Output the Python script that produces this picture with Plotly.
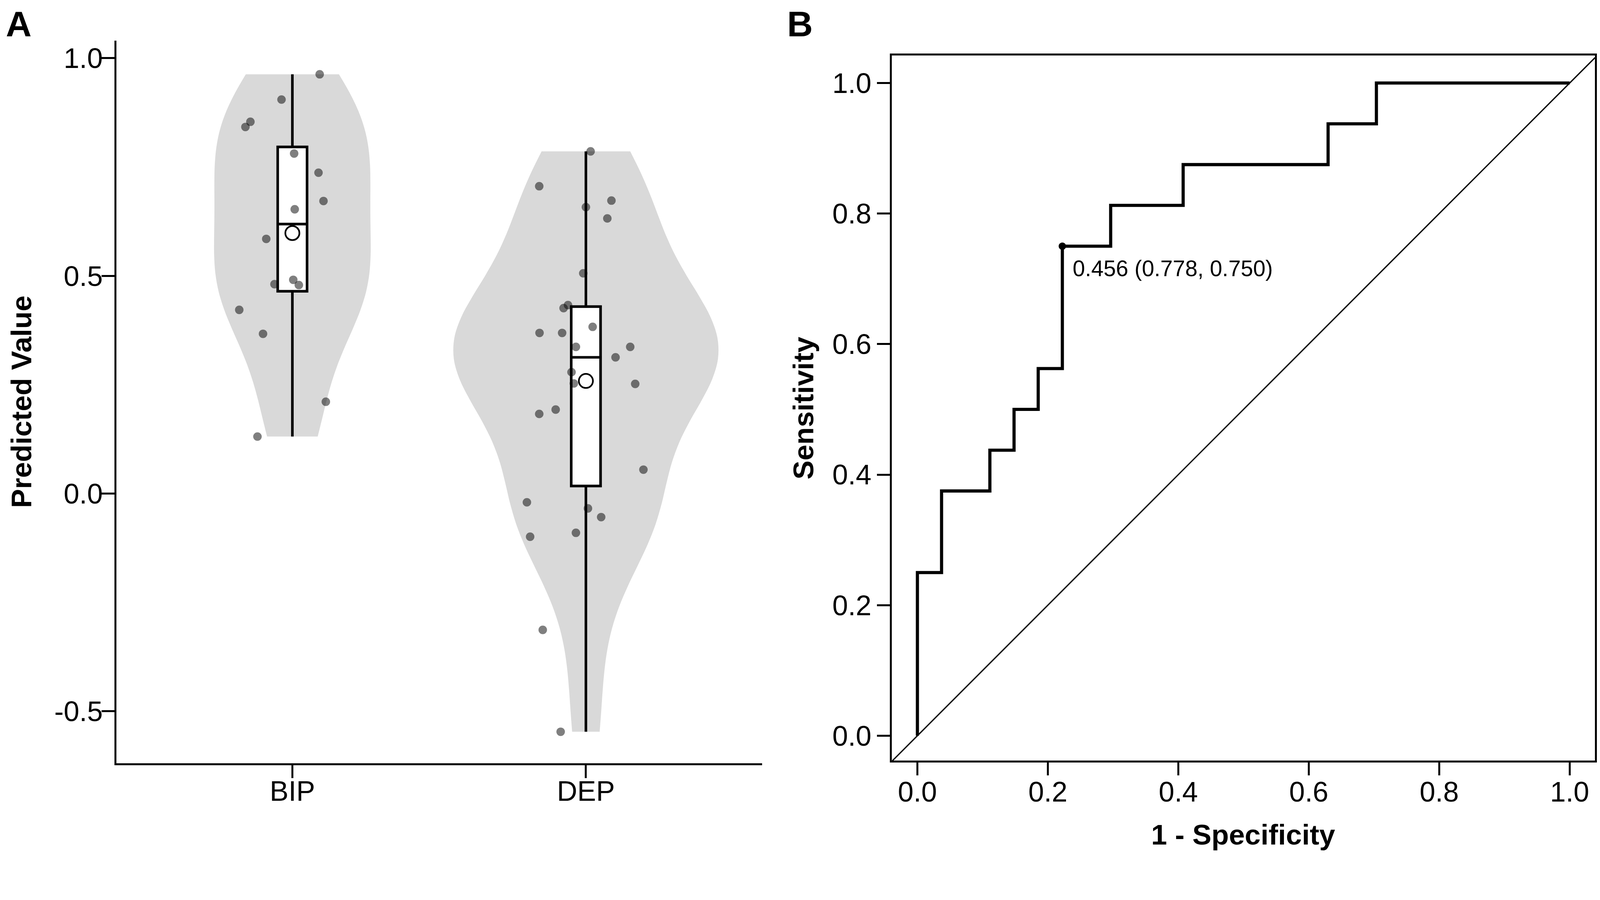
import numpy as np
import plotly.graph_objects as go

# --- data ---
groups = ["BIP", "DEP"]

bip_values = [0.963, 0.905, 0.854, 0.842, 0.781, 0.737, 0.672, 0.653,
              0.585, 0.481, 0.491, 0.479, 0.422, 0.367, 0.211, 0.131]
bip_jitter = [0.093, -0.037, -0.143, -0.160, 0.006, 0.089, 0.106, 0.008,
              -0.089, -0.061, 0.003, 0.022, -0.181, -0.100, 0.114, -0.119]

dep_values = [0.786, 0.706, 0.673, 0.658, 0.632, 0.506, 0.433, 0.426, 0.383,
              0.369, 0.369, 0.337, 0.337, 0.313, 0.279, 0.253, 0.252, 0.193,
              0.183, 0.055, -0.020, -0.034, -0.054, -0.090, -0.099, -0.313, -0.547]
dep_jitter = [0.016, -0.159, 0.087, 0.000, 0.073, -0.009, -0.061, -0.076, 0.023,
              -0.158, -0.081, -0.034, 0.151, 0.101, -0.049, -0.041, 0.168, -0.103,
              -0.159, 0.196, -0.201, 0.007, 0.052, -0.034, -0.190, -0.147, -0.086]

y_ticks_a = [-0.5, 0.0, 0.5, 1.0]
y_ticktext_a = ["-0.5", "0.0", "0.5", "1.0"]
roc_ticks = [0.0, 0.2, 0.4, 0.6, 0.8, 1.0]
roc_ticktext = ["0.0", "0.2", "0.4", "0.6", "0.8", "1.0"]

FONT = "Liberation Sans, Arial, Helvetica, sans-serif"
VIOLIN_GREY = "#d9d9d9"

# the page is photographed slightly enlarged, so lay out in css px
S = 4317 / 4096
PAGE_MARGIN = 8
FW, FH = 4080, 2170


def px(v):
    return v / S


def fx(X):
    # picture x pixel -> paper fraction
    return (X / S - PAGE_MARGIN) / FW


def fy(Y):
    # picture y pixel (from top) -> paper fraction
    return 1 - (Y / S - PAGE_MARGIN) / FH


def nrd0(v):
    # R's default bandwidth (Silverman)
    v = np.asarray(v)
    q1, q3 = np.percentile(v, [25, 75])
    lo = min(np.std(v, ddof=1), (q3 - q1) / 1.34)
    return 0.9 * lo * len(v) ** -0.2


samples = [bip_values, dep_values]
jitters = [bip_jitter, dep_jitter]
n_max = max(len(s) for s in samples)

fig = go.Figure()

# panel A: violins (scaled by count)
for i, vals in enumerate(samples):
    fig.add_trace(go.Violin(
        x=[i] * len(vals), y=vals, name=groups[i],
        width=0.9 * len(vals) / n_max, bandwidth=nrd0(vals),
        spanmode="hard", points=False,
        fillcolor=VIOLIN_GREY, line=dict(color=VIOLIN_GREY, width=0),
        opacity=1, hoverinfo="skip", showlegend=False,
        xaxis="x", yaxis="y"))

# boxes
q1s, meds, q3s, mins, maxs = [], [], [], [], []
for vals in samples:
    a, b, c = np.percentile(vals, [25, 50, 75])
    q1s.append(a); meds.append(b); q3s.append(c)
    mins.append(min(vals)); maxs.append(max(vals))

fig.add_trace(go.Box(
    x=[0, 1], q1=q1s, median=meds, q3=q3s,
    lowerfence=mins, upperfence=maxs,
    width=0.1, whiskerwidth=0, boxpoints=False,
    fillcolor="white", line=dict(color="black", width=px(7)),
    hoverinfo="skip", showlegend=False, xaxis="x", yaxis="y"))

# jittered points
for i, (vals, jit) in enumerate(zip(samples, jitters)):
    fig.add_trace(go.Scatter(
        x=[i + j for j in jit], y=vals, mode="markers",
        marker=dict(size=px(23), color="rgba(0,0,0,0.5)", line=dict(width=0)),
        hoverinfo="skip", showlegend=False, xaxis="x", yaxis="y"))

# means
fig.add_trace(go.Scatter(
    x=[0, 1], y=[float(np.mean(v)) for v in samples], mode="markers",
    marker=dict(size=px(38), color="white", line=dict(color="black", width=px(4.5))),
    hoverinfo="skip", showlegend=False, xaxis="x", yaxis="y"))

# panel B: ROC from the same values (BIP = cases, DEP = controls)
bip = np.array(bip_values)
dep = np.array(dep_values)
thr = np.sort(np.unique(np.concatenate([bip, dep])))[::-1]
fpr = [0.0] + [float(np.mean(dep >= t)) for t in thr]
tpr = [0.0] + [float(np.mean(bip >= t)) for t in thr]

youden = np.array(tpr) - np.array(fpr)
k = int(np.argmax(youden))
best_thr = (thr[k - 1] + thr[k]) / 2
best_label = f"{best_thr:.3f} ({1 - fpr[k]:.3f}, {tpr[k]:.3f})"

x2_range = [-0.039, 1.039]
y2_range = [-0.038, 1.042]

fig.add_trace(go.Scatter(
    x=x2_range, y=x2_range, mode="lines",
    line=dict(color="black", width=px(3.5)),
    hoverinfo="skip", showlegend=False, xaxis="x2", yaxis="y2"))

fig.add_trace(go.Scatter(
    x=fpr, y=tpr, mode="lines",
    line=dict(color="black", width=px(8.5)),
    hoverinfo="skip", showlegend=False, xaxis="x2", yaxis="y2"))

fig.add_trace(go.Scatter(
    x=[fpr[k]], y=[tpr[k]], mode="markers",
    marker=dict(size=px(20), color="black"),
    hoverinfo="skip", showlegend=False, xaxis="x2", yaxis="y2"))

axis_common = dict(
    showline=True, linecolor="black", linewidth=px(5),
    ticks="outside", ticklen=px(35), tickwidth=px(5), tickcolor="black",
    showgrid=False, zeroline=False,
    tickfont=dict(family=FONT, size=px(76), color="black"),
)

fig.update_layout(
    width=FW, height=FH,
    margin=dict(l=0, r=0, t=0, b=0),
    paper_bgcolor="white", plot_bgcolor="white",
    violinmode="overlay", boxmode="overlay",
    showlegend=False,
    xaxis=dict(domain=[fx(314), fx(2058)], range=[-0.6, 1.6],
               tickvals=[0, 1], ticktext=groups, anchor="y",
               ticklabelstandoff=-28, **axis_common),
    yaxis=dict(domain=[fy(2059), fy(110)], range=[-0.619, 1.040],
               tickvals=y_ticks_a, ticktext=y_ticktext_a, anchor="x",
               ticklabelstandoff=-18, **axis_common),
    xaxis2=dict(domain=[fx(2409), fx(4308)], range=x2_range, mirror=True,
                tickvals=roc_ticks, ticktext=roc_ticktext, anchor="y2",
                ticklabelstandoff=-20, **axis_common),
    yaxis2=dict(domain=[fy(2052), fy(150)], range=y2_range, mirror=True,
                tickvals=roc_ticks, ticktext=roc_ticktext, anchor="x2",
                **axis_common),
)

title_font = dict(family=FONT, size=px(77), color="black", weight="bold")
letter_font = dict(family=FONT, size=px(96), color="black", weight="bold")

annotations = [
    dict(text="Predicted Value", x=fx(58), y=fy(1084), textangle=-90,
         font=title_font),
    dict(text="Sensitivity", x=fx(2170), y=fy(1101), textangle=-90,
         font=title_font),
    dict(text="1 - Specificity", x=fx(3358), y=fy(2252), font=title_font),
    dict(text="A", x=fx(14), y=fy(10), xanchor="left", yanchor="top", font=letter_font),
    dict(text="B", x=fx(2124), y=fy(10), xanchor="left", yanchor="top", font=letter_font),
]
for a in annotations:
    a.update(xref="paper", yref="paper", showarrow=False)
    a.setdefault("xanchor", "center")
    a.setdefault("yanchor", "middle")

annotations.append(dict(
    text=best_label, x=fpr[k], y=tpr[k], xref="x2", yref="y2",
    xanchor="left", yanchor="middle", xshift=px(26), yshift=-px(60), showarrow=False,
    font=dict(family=FONT, size=px(60), color="black")))

fig.update_layout(annotations=annotations)

fig.write_html("out.html")
